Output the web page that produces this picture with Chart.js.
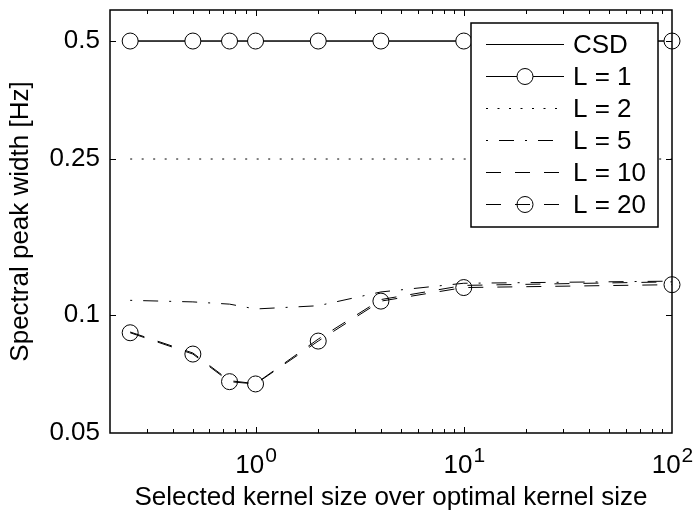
<!DOCTYPE html>
<html>
<head>
<meta charset="utf-8">
<script src="https://cdn.jsdelivr.net/npm/chart.js@4/dist/chart.umd.min.js"></script>
<style>
  html, body { margin: 0; padding: 0; background: #fff; }
</style>
</head>
<body>
<canvas id="peakChart" width="693" height="514"></canvas>
<script>
// Selected kernel size over optimal kernel size (x values)
const kernelRatio = [0.25, 0.5, 0.75, 1, 2, 4, 10, 100];

// Spectral peak width [Hz] per series
const csdWidth = [0.5, 0.5, 0.5, 0.5, 0.5, 0.5, 0.5, 0.5];
const l1Width = [0.5, 0.5, 0.5, 0.5, 0.5, 0.5, 0.5, 0.5];
const l2Width = [0.25, 0.25, 0.25, 0.25, 0.25, 0.25, 0.25, 0.25];
const l5Width = [0.109, 0.108, 0.1066, 0.1036, 0.1056, 0.1145, 0.1205, 0.122];
const l10Width = [0.0905, 0.080, 0.068, 0.0668, 0.0868, 0.1095, 0.119, 0.1215];
const l20Width = [0.0901, 0.0795, 0.0676, 0.0667, 0.0858, 0.1085, 0.1175, 0.1195];

const seriesLabels = ["CSD", "L = 1", "L = 2", "L = 5", "L = 10", "L = 20"];

// tick labels
const yTickValues = [0.05, 0.1, 0.25, 0.5];
const xTickValues = [1, 10, 100];
const xTickBase = "10";
const xTickExp = ["0", "1", "2"];

const FONT = "'Liberation Sans', Arial, Helvetica, sans-serif";
const FSIZE = 26;

const toPoints = (ys) => kernelRatio.map((x, i) => ({ x: x, y: ys[i] }));

function series(label, ys, dash, marker, fill, order) {
  return {
    label: label,
    data: toPoints(ys),
    borderColor: "#000",
    borderWidth: 1,
    borderDash: dash,
    borderCapStyle: "butt",
    pointRadius: marker ? 8 : 0,
    pointStyle: "circle",
    pointBorderColor: "#000",
    pointBorderWidth: 1,
    pointBackgroundColor: fill,
    tension: 0,
    clip: false,
    order: order,
  };
}

// MATLAB style box, inward ticks and 10^n labels
const axesBox = {
  id: "axesBox",
  afterDraw(chart) {
    const { ctx, chartArea: a, scales } = chart;
    const x = scales.x, y = scales.y;
    ctx.save();
    ctx.strokeStyle = "#000";
    ctx.lineWidth = 1;
    ctx.beginPath();
    for (let e = -1; e <= 1; e++) {
      for (let m = 1; m <= 9; m++) {
        const v = m * Math.pow(10, e);
        if (v <= x.min * 1.0001 || v >= x.max * 0.9999) continue;
        const px = Math.round(x.getPixelForValue(v)) + 0.5;
        const len = m === 1 ? 6 : 4;
        ctx.moveTo(px, a.bottom); ctx.lineTo(px, a.bottom - len);
        ctx.moveTo(px, a.top); ctx.lineTo(px, a.top + len);
      }
    }
    yTickValues.forEach((v) => {
      if (v <= y.min * 1.0001 || v >= y.max * 0.9999) return;
      const py = Math.round(y.getPixelForValue(v)) + 0.5;
      ctx.moveTo(a.left, py); ctx.lineTo(a.left + 6, py);
      ctx.moveTo(a.right, py); ctx.lineTo(a.right - 6, py);
    });
    ctx.stroke();
    ctx.lineWidth = 1.5;
    ctx.strokeRect(a.left, a.top, a.right - a.left, a.bottom - a.top);

    // x tick labels with superscript exponent
    ctx.fillStyle = "#000";
    ctx.textBaseline = "alphabetic";
    ctx.textAlign = "left";
    xTickValues.forEach((v, i) => {
      const px = x.getPixelForValue(v);
      ctx.font = FSIZE + "px " + FONT;
      const wb = ctx.measureText(xTickBase).width;
      ctx.font = "21px " + FONT;
      const we = ctx.measureText(xTickExp[i]).width;
      const start = px - (wb + we) / 2;
      ctx.font = FSIZE + "px " + FONT;
      ctx.fillText(xTickBase, start, a.bottom + 40);
      ctx.font = "21px " + FONT;
      ctx.fillText(xTickExp[i], start + wb + 1, a.bottom + 29);
    });
    ctx.restore();
  },
};

// boxed legend in the upper right corner
const boxLegend = {
  id: "boxLegend",
  afterDraw(chart) {
    const { ctx, chartArea: a } = chart;
    const w = 187, h = 204;
    const left = a.right - 14 - w, top = a.top + 13;
    ctx.save();
    ctx.fillStyle = "#fff";
    ctx.fillRect(left, top, w, h);
    ctx.strokeStyle = "#000";
    ctx.lineWidth = 1.5;
    ctx.strokeRect(left, top, w, h);
    chart.data.datasets.forEach((ds, i) => {
      const cy = top + 21.5 + i * 32;
      ctx.lineWidth = 1;
      ctx.setLineDash(ds.borderDash || []);
      ctx.beginPath();
      ctx.moveTo(left + 15, cy);
      ctx.lineTo(left + 93, cy);
      ctx.stroke();
      ctx.setLineDash([]);
      if (ds.pointRadius > 0) {
        ctx.beginPath();
        ctx.arc(left + 54, cy, ds.pointRadius, 0, Math.PI * 2);
        ctx.fillStyle = ds.pointBackgroundColor;
        ctx.fill();
        ctx.stroke();
      }
      ctx.fillStyle = "#000";
      ctx.font = FSIZE + "px " + FONT;
      ctx.textAlign = "left";
      ctx.textBaseline = "middle";
      ctx.fillText(ds.label, left + 102, cy + 1);
    });
    ctx.restore();
  },
};

const config = {
  type: "line",
  data: {
    datasets: [
      series(seriesLabels[0], csdWidth, [], false, "rgba(0,0,0,0)", 2),
      series(seriesLabels[1], l1Width, [], true, "#fff", 1),
      series(seriesLabels[2], l2Width, [2, 9.5], false, "rgba(0,0,0,0)", 3),
      series(seriesLabels[3], l5Width, [2, 11, 15, 11], false, "rgba(0,0,0,0)", 3),
      series(seriesLabels[4], l10Width, [15, 14], false, "rgba(0,0,0,0)", 3),
      series(seriesLabels[5], l20Width, [15, 14], true, "rgba(0,0,0,0)", 3),
    ],
  },
  options: {
    responsive: false,
    animation: false,
    devicePixelRatio: 1,
    layout: { padding: { top: 10, right: 21, left: 0, bottom: 0 } },
    plugins: {
      legend: { display: false },
      tooltip: { enabled: false },
    },
    scales: {
      x: {
        type: "logarithmic",
        min: 0.2,
        max: 100,
        grid: { display: false, drawTicks: false },
        border: { display: false },
        ticks: { display: false },
        title: {
          display: true,
          text: "Selected kernel size over optimal kernel size",
          color: "#000",
          font: { family: FONT, size: FSIZE },
          padding: { top: 0, bottom: 1 },
        },
        afterFit: (s) => { s.height = 81; s.paddingLeft = 0; s.paddingRight = 0; },
      },
      y: {
        type: "logarithmic",
        min: 0.05,
        max: 0.6,
        grid: { display: false, drawTicks: false },
        border: { display: false },
        afterBuildTicks: (s) => { s.ticks = yTickValues.map((v) => ({ value: v })); },
        ticks: {
          color: "#000",
          padding: 10,
          font: { family: FONT, size: FSIZE },
          callback: (v) => String(v),
        },
        title: {
          display: true,
          text: "Spectral peak width [Hz]",
          color: "#000",
          font: { family: FONT, size: FSIZE },
          padding: { top: 5, bottom: 0 },
        },
        afterFit: (s) => { s.width = 110; s.paddingTop = 0; s.paddingBottom = 0; },
      },
    },
  },
  plugins: [axesBox, boxLegend],
};

const peakChart = new Chart(document.getElementById("peakChart"), config);
</script>
</body>
</html>
